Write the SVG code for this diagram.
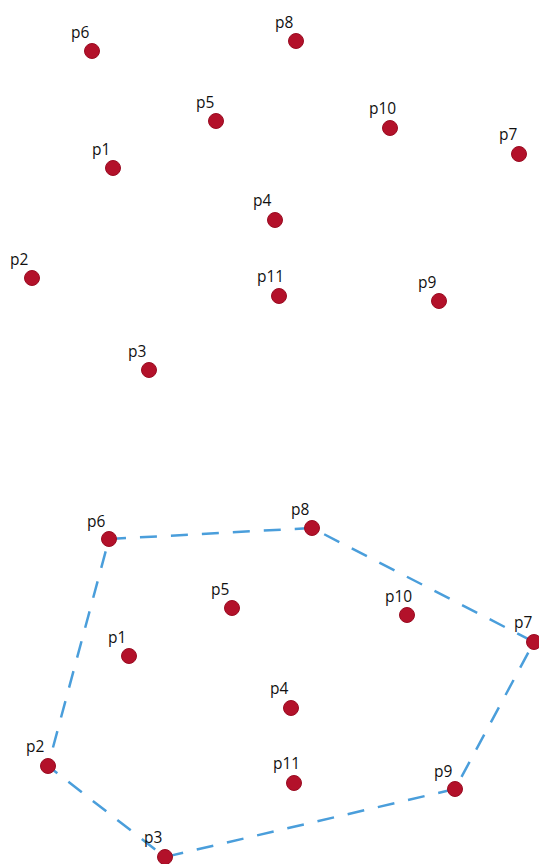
<svg xmlns="http://www.w3.org/2000/svg" width="539" height="864" viewBox="0 0 539 864">
  <style>
    .pt { fill: #b3112a; stroke: #9a0c22; stroke-width: 1; }
    .lbl { font-family: "Open Sans", "Liberation Sans", sans-serif; font-size: 15.5px; fill: #111111; }
    .hull { fill: none; stroke: #4a9edb; stroke-width: 2.5; stroke-dasharray: 17 14; stroke-linejoin: round; }
  </style>
  <rect width="539" height="864" fill="#ffffff"/>

  <!-- Upper set: the raw points -->
  <g id="top-p6"><circle class="pt" cx="92" cy="51" r="7.5"/><text class="lbl" x="71" y="38">p6</text></g>
  <g id="top-p8"><circle class="pt" cx="296" cy="41" r="7.5"/><text class="lbl" x="275" y="28">p8</text></g>
  <g id="top-p5"><circle class="pt" cx="216" cy="121" r="7.5"/><text class="lbl" x="196" y="108">p5</text></g>
  <g id="top-p10"><circle class="pt" cx="390" cy="128" r="7.5"/><text class="lbl" x="369" y="114">p10</text></g>
  <g id="top-p7"><circle class="pt" cx="519" cy="154" r="7.5"/><text class="lbl" x="499" y="140">p7</text></g>
  <g id="top-p1"><circle class="pt" cx="113" cy="168" r="7.5"/><text class="lbl" x="92" y="155">p1</text></g>
  <g id="top-p4"><circle class="pt" cx="275" cy="220" r="7.5"/><text class="lbl" x="253" y="206">p4</text></g>
  <g id="top-p2"><circle class="pt" cx="32" cy="278" r="7.5"/><text class="lbl" x="10" y="265">p2</text></g>
  <g id="top-p11"><circle class="pt" cx="279" cy="296" r="7.5"/><text class="lbl" x="257" y="282">p11</text></g>
  <g id="top-p9"><circle class="pt" cx="439" cy="301" r="7.5"/><text class="lbl" x="418" y="288">p9</text></g>
  <g id="top-p3"><circle class="pt" cx="149" cy="370" r="7.5"/><text class="lbl" x="128" y="357">p3</text></g>

  <!-- Lower set: convex hull outline -->
  <g id="connectors">
    <polygon class="hull" points="109,539 312,528 534,642 455,789 165,857 48,766"/>
  </g>

  <g id="hull-p6"><circle class="pt" cx="109" cy="539" r="7.5"/><text class="lbl" x="87" y="527">p6</text></g>
  <g id="hull-p8"><circle class="pt" cx="312" cy="528" r="7.5"/><text class="lbl" x="291" y="515">p8</text></g>
  <g id="hull-p5"><circle class="pt" cx="232" cy="608" r="7.5"/><text class="lbl" x="211" y="595">p5</text></g>
  <g id="hull-p10"><circle class="pt" cx="407" cy="615" r="7.5"/><text class="lbl" x="385" y="602">p10</text></g>
  <g id="hull-p7"><circle class="pt" cx="534" cy="642" r="7.5"/><text class="lbl" x="514" y="628">p7</text></g>
  <g id="hull-p1"><circle class="pt" cx="129" cy="656" r="7.5"/><text class="lbl" x="108" y="643">p1</text></g>
  <g id="hull-p4"><circle class="pt" cx="291" cy="708" r="7.5"/><text class="lbl" x="270" y="694">p4</text></g>
  <g id="hull-p2"><circle class="pt" cx="48" cy="766" r="7.5"/><text class="lbl" x="26" y="752">p2</text></g>
  <g id="hull-p11"><circle class="pt" cx="294" cy="783" r="7.5"/><text class="lbl" x="273" y="769">p11</text></g>
  <g id="hull-p9"><circle class="pt" cx="455" cy="789" r="7.5"/><text class="lbl" x="434" y="777">p9</text></g>
  <g id="hull-p3"><circle class="pt" cx="165" cy="857" r="7.5"/><text class="lbl" x="144" y="843">p3</text></g>
</svg>
